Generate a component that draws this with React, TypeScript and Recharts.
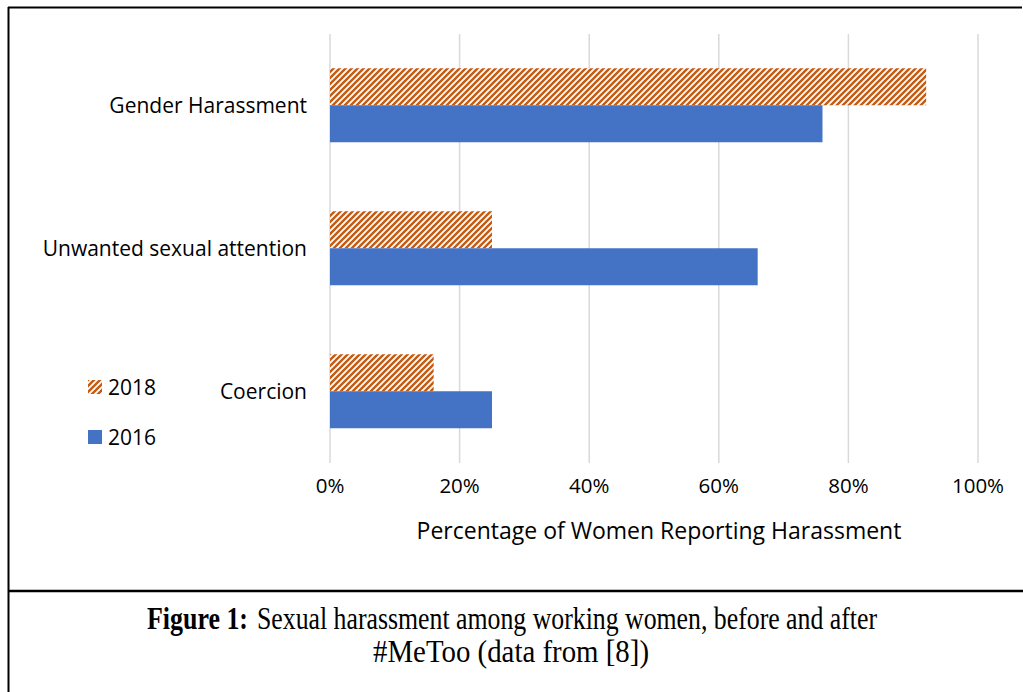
import { BarChart, Bar, XAxis, YAxis, CartesianGrid } from "recharts";

const categories = ["Gender Harassment", "Unwanted sexual attention", "Coercion"];
const values2018 = [92, 25, 16];
const values2016 = [76, 66, 25];
const seriesNames = ["2018", "2016"];
const xTicks = [0, 20, 40, 60, 80, 100];

const ORANGE = "#C55A11";
const BLUE = "#4472C4";
const FONT = "'Open Sans', sans-serif";
const SERIF = "'Liberation Serif', 'Times New Roman', serif";

const data = categories.map((name, i) => ({
  name,
  y2018: values2018[i],
  y2016: values2016[i],
}));

function Hatch({ id }: { id: string }) {
  return (
    <pattern id={id} patternUnits="userSpaceOnUse" width={6} height={6}>
      <rect width={6} height={6} fill="#fff" />
      <path
        d="M0,6 L6,0 M-1.5,1.5 L1.5,-1.5 M4.5,7.5 L7.5,4.5"
        stroke={ORANGE}
        strokeWidth={2.4}
      />
    </pattern>
  );
}

export default function App() {
  return (
    <div
      style={{
        position: "absolute",
        left: 0,
        top: 0,
        width: 1023,
        height: 692,
        background: "#fff",
      }}
    >
      <BarChart
        width={1023}
        height={692}
        data={data}
        layout="vertical"
        margin={{ top: 34, right: 45, bottom: 149, left: 0 }}
        barCategoryGap="24%"
        barGap={0}
      >
        <defs>
          <Hatch id="hatch2018" />
        </defs>
        <CartesianGrid horizontal={false} stroke="#d9d9d9" strokeWidth={1.5} />
        <XAxis
          type="number"
          domain={[0, 100]}
          ticks={xTicks}
          tickFormatter={(v) => `${v}%`}
          axisLine={false}
          tickLine={false}
          tickMargin={9}
          height={80}
          tick={{ fontSize: 20.5, fill: "#000", fontFamily: FONT }}
          label={{
            value: "Percentage of Women Reporting Harassment",
            position: "insideBottom",
            offset: 4,
            dx: 5,
            fontSize: 23,
            fill: "#000",
            fontFamily: FONT,
          }}
        />
        <YAxis
          type="category"
          dataKey="name"
          width={330}
          axisLine={false}
          tickLine={false}
          tickMargin={17}
          tick={{ fontSize: 21, fill: "#000", fontFamily: FONT }}
        />
        <Bar dataKey="y2018" name={seriesNames[0]} fill="url(#hatch2018)" isAnimationActive={false} />
        <Bar dataKey="y2016" name={seriesNames[1]} fill={BLUE} isAnimationActive={false} />
      </BarChart>

      {/* frame, legend and caption */}
      <svg
        width={1023}
        height={692}
        style={{ position: "absolute", left: 0, top: 0, pointerEvents: "none" }}
      >
        <defs>
          <Hatch id="hatchLegend" />
        </defs>
        <line x1={8} y1={7.5} x2={1022} y2={7.5} stroke="#000" strokeWidth={2} />
        <line x1={8.5} y1={7} x2={8.5} y2={692} stroke="#000" strokeWidth={2} />
        <line x1={8} y1={591} x2={1023} y2={591} stroke="#000" strokeWidth={2.5} />

        <rect x={88} y={380} width={14} height={14} fill="url(#hatchLegend)" />
        <text x={108} y={387} dy="0.36em" fontSize={21} fontFamily={FONT} fill="#000">
          {seriesNames[0]}
        </text>
        <rect x={88} y={430} width={14} height={14} fill={BLUE} />
        <text x={108} y={437} dy="0.36em" fontSize={21} fontFamily={FONT} fill="#000">
          {seriesNames[1]}
        </text>

        <text
          x={147}
          y={629}
          fontSize={31}
          fontWeight="bold"
          fontFamily={SERIF}
          fill="#000"
          textLength={101}
          lengthAdjust="spacingAndGlyphs"
        >
          Figure 1:
        </text>
        <text
          x={257}
          y={629}
          fontSize={31}
          fontFamily={SERIF}
          fill="#000"
          textLength={620}
          lengthAdjust="spacingAndGlyphs"
        >
          Sexual harassment among working women, before and after
        </text>
        <text
          x={511}
          y={662}
          textAnchor="middle"
          fontSize={31}
          fontFamily={SERIF}
          fill="#000"
          textLength={276}
          lengthAdjust="spacingAndGlyphs"
        >
          #MeToo (data from [8])
        </text>
      </svg>
    </div>
  );
}
